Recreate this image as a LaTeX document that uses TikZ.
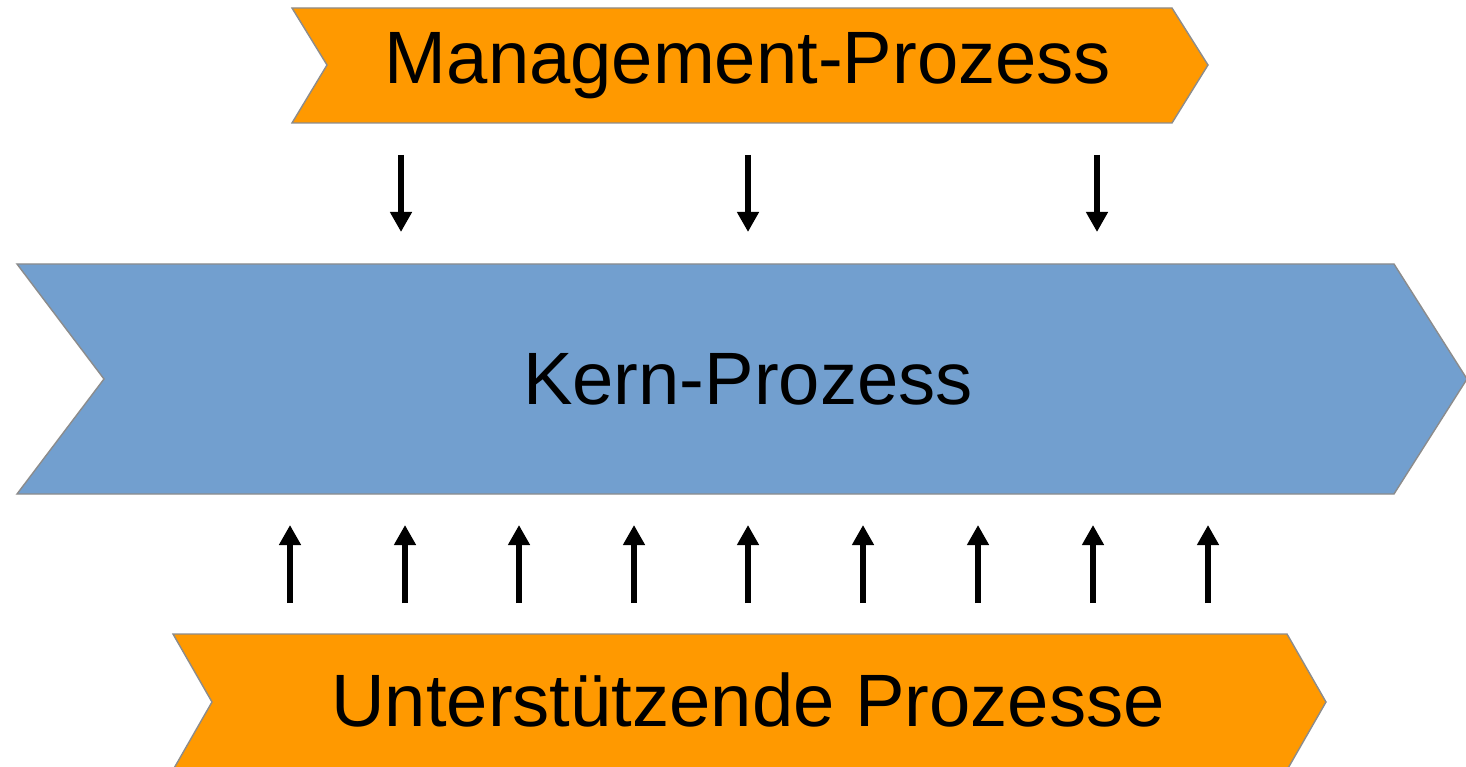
\documentclass[tikz,border=0pt]{standalone}
\usepackage{fontspec}
\setmainfont{Liberation Sans}
\usetikzlibrary{arrows.meta}
\definecolor{procorange}{HTML}{FF9900}
\definecolor{procblue}{HTML}{729FCF}
\definecolor{procedge}{HTML}{8C8C8C}
\tikzset{
  chevron/.style={draw=procedge,line width=.35mm,line join=miter},
  label/.style={anchor=base,inner sep=0pt,font=\fontsize{52.8}{63}\selectfont},
  flow/.style={line width=1.45mm,-{Triangle[length=5mm,width=5.2mm]}}
}
\begin{document}
\begin{tikzpicture}[x=.25mm,y=-.25mm]
\clip (0,0) rectangle (1466,767);
\path[fill=white] (0,0) rectangle (1466,767);
% chevrons
\draw[chevron,fill=procorange] (292,8) -- (1172,8) -- (1208,65) -- (1172,123) -- (292,123) -- (327,65) -- cycle;
\draw[chevron,fill=procblue] (17,264) -- (1394,264) -- (1467,379) -- (1394,494) -- (17,494) -- (104,379) -- cycle;
\draw[chevron,fill=procorange] (173,634) -- (1287,634) -- (1326,702) -- (1287,770) -- (173,770) -- (212,702) -- cycle;
\node[label] (mgmt) at (748,84) {Management-Prozess};
\node[label] (kern) at (748,404) {Kern-Prozess};
\node[label] (support) at (748,726) {Unterstützende Prozesse};
% arrows
\foreach \x [count=\i] in {401,748,1097} {
  \coordinate (mstart\i) at (\x,155);
  \coordinate (mend\i) at (\x,232);
  \draw[flow] (mstart\i) -- (mend\i);
}
\foreach \x [count=\i] in {290,405,519,634,748,863,978,1093,1208} {
  \coordinate (sstart\i) at (\x,603);
  \coordinate (send\i) at (\x,525);
  \draw[flow] (sstart\i) -- (send\i);
}
\end{tikzpicture}
\end{document}
